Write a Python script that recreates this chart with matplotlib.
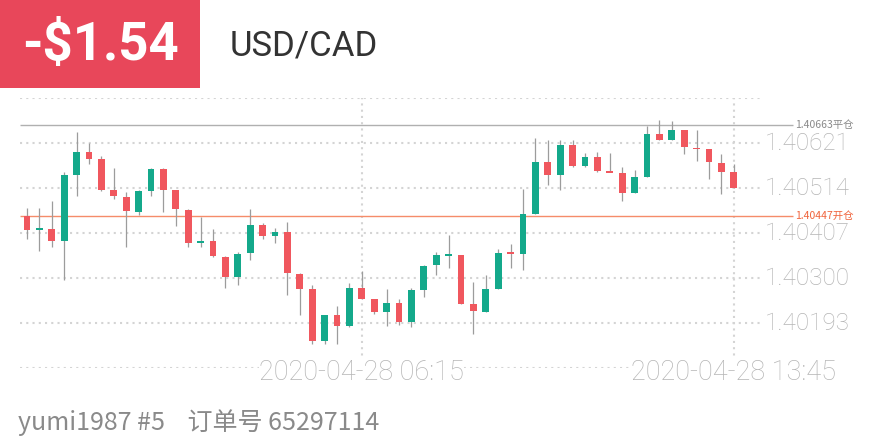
import matplotlib
matplotlib.use("Agg")
from matplotlib import pyplot as plt
from matplotlib.patches import Rectangle
from matplotlib.transforms import blended_transform_factory

# 15 min candles, USD/CAD
opens = [1.40447, 1.40415, 1.40417, 1.40387, 1.40544, 1.40600, 1.40582, 1.40510, 1.40493, 1.40458,
         1.40508, 1.40560, 1.40510, 1.40461, 1.40384, 1.40388, 1.40350, 1.40303, 1.40360, 1.40425,
         1.40401, 1.40409, 1.40310, 1.40274, 1.40150, 1.40213, 1.40185, 1.40277, 1.40250, 1.40219,
         1.40241, 1.40196, 1.40271, 1.40330, 1.40355, 1.40354, 1.40239, 1.40220, 1.40275, 1.40361,
         1.40356, 1.40451, 1.40576, 1.40544, 1.40616, 1.40566, 1.40588, 1.40553, 1.40550, 1.40503,
         1.40541, 1.40643, 1.40628, 1.40653, 1.40609, 1.40606, 1.40574, 1.40552]
highs = [1.40467, 1.40467, 1.40483, 1.40552, 1.40647, 1.40620, 1.40590, 1.40562, 1.40504, 1.40510,
         1.40562, 1.40562, 1.40510, 1.40463, 1.40446, 1.40417, 1.40352, 1.40361, 1.40463, 1.40431,
         1.40419, 1.40433, 1.40311, 1.40283, 1.40213, 1.40233, 1.40289, 1.40316, 1.40251, 1.40273,
         1.40249, 1.40277, 1.40330, 1.40361, 1.40403, 1.40355, 1.40291, 1.40308, 1.40369, 1.40382,
         1.40512, 1.40633, 1.40629, 1.40629, 1.40628, 1.40598, 1.40600, 1.40598, 1.40563, 1.40557,
         1.40661, 1.40675, 1.40673, 1.40653, 1.40653, 1.40606, 1.40594, 1.40572]
lows = [1.40392, 1.40364, 1.40374, 1.40296, 1.40496, 1.40570, 1.40506, 1.40488, 1.40373, 1.40449,
        1.40496, 1.40456, 1.40423, 1.40373, 1.40373, 1.40350, 1.40277, 1.40283, 1.40342, 1.40392,
        1.40384, 1.40259, 1.40211, 1.40142, 1.40142, 1.40144, 1.40184, 1.40249, 1.40215, 1.40185,
        1.40188, 1.40184, 1.40255, 1.40308, 1.40323, 1.40237, 1.40167, 1.40220, 1.40275, 1.40323,
        1.40320, 1.40451, 1.40522, 1.40510, 1.40565, 1.40565, 1.40553, 1.40551, 1.40484, 1.40503,
        1.40541, 1.40628, 1.40627, 1.40594, 1.40578, 1.40536, 1.40499, 1.40513]
closes = [1.40415, 1.40417, 1.40387, 1.40544, 1.40600, 1.40582, 1.40510, 1.40494, 1.40459, 1.40506,
          1.40560, 1.40510, 1.40463, 1.40384, 1.40386, 1.40352, 1.40303, 1.40358, 1.40425, 1.40401,
          1.40409, 1.40311, 1.40275, 1.40151, 1.40213, 1.40185, 1.40277, 1.40251, 1.40219, 1.40241,
          1.40196, 1.40271, 1.40328, 1.40354, 1.40355, 1.40239, 1.40221, 1.40274, 1.40360, 1.40357,
          1.40451, 1.40576, 1.40544, 1.40616, 1.40566, 1.40588, 1.40554, 1.40551, 1.40503, 1.40540,
          1.40643, 1.40628, 1.40653, 1.40611, 1.40607, 1.40575, 1.40552, 1.40513]

grid_levels = [1.40086, 1.40193, 1.40300, 1.40407, 1.40514, 1.40621, 1.40728]
price_labels = ["1.40193", "1.40300", "1.40407", "1.40514", "1.40621"]
time_idx = [27, 57]
time_labels = ["2020-04-28 06:15", "2020-04-28 13:45"]
open_price = 1.40447
close_price = 1.40663
profit = "-$1.54"
symbol = "USD/CAD"
footer = "yumi1987 #5    订单号 65297114"

green = "#14a98b"
red = "#f0575e"
W, H = 880, 440

fig = plt.figure(figsize=(8.8, 4.4), dpi=100)
fig.patch.set_facecolor("white")

# plot area in pixels: x 20..850, y 98..368
ax = fig.add_axes([20 / W, 1 - 368 / H, 830 / W, 270 / H])
ax.set_xlim(-7 / 12.4, 823 / 12.4)
ax.set_ylim(grid_levels[0], grid_levels[-1])
ax.axis("off")

x_grid_end = 735 / 12.4
x_line_end = 766 / 12.4
for g in grid_levels:
    ax.hlines(g, ax.get_xlim()[0], x_grid_end, colors="#d4d4d4", lw=1.5,
              linestyles=(0, (1, 2)), zorder=0)
for t in time_idx:
    ax.vlines(t, grid_levels[0], grid_levels[-1], colors="#d4d4d4", lw=1.5,
              linestyles=(0, (1, 2)), zorder=0)

# candles
n = len(opens)
xs = list(range(n))
ax.vlines(xs, lows, highs, colors="#9c9c9c", lw=0.9, zorder=2)
for i in xs:
    o, c = opens[i], closes[i]
    col = green if c >= o else red
    lo, hi = min(o, c), max(o, c)
    if hi - lo < 0.00004:
        mid = (hi + lo) / 2
        lo, hi = mid - 0.00002, mid + 0.00002
    ax.bar(i, hi - lo, bottom=lo, width=0.56, color=col, zorder=3, linewidth=0)

# open / close lines
ax.hlines(close_price, ax.get_xlim()[0], x_line_end, colors="#b0b0b0", lw=1.0, zorder=1)
ax.hlines(open_price, ax.get_xlim()[0], x_line_end, colors="#f58c6a", lw=1.0, zorder=1)

tr_y = blended_transform_factory(ax.transAxes, ax.transData)
for lab in price_labels:
    ax.text(1.0, float(lab), lab, transform=tr_y, ha="right", va="center",
            fontsize=17.5, color="#b5b5b5", family="Roboto", fontweight="light")

lbl_family = ["Noto Sans CJK SC", "DejaVu Sans"]
ax.text(x_line_end + 0.2, close_price, "%.5f平仓" % close_price, ha="left", va="center",
        fontsize=7.5, color="#8a8a8a", family=lbl_family,
        bbox=dict(facecolor="white", edgecolor="none", pad=1))
ax.text(x_line_end + 0.2, open_price, "%.5f开仓" % open_price, ha="left", va="center",
        fontsize=7.5, color="#f0643c", family=lbl_family,
        bbox=dict(facecolor="white", edgecolor="none", pad=1))

tr_x = blended_transform_factory(ax.transData, ax.transAxes)
for t, lab in zip(time_idx, time_labels):
    ax.text(t, -4 / 270, lab, transform=tr_x, ha="center", va="center",
            fontsize=19.5, color="#b5b5b5", family="Roboto", fontweight="light",
            bbox=dict(facecolor="white", edgecolor="none", pad=0))

# header
fig.patches.append(Rectangle((0, 1 - 88 / H), 200 / W, 88 / H, transform=fig.transFigure,
                             facecolor="#e8475a", edgecolor="none"))
fig.text(100 / W, 1 - 46 / H, profit, ha="center", va="center", color="white",
         fontsize=38, fontweight="bold", family="Roboto")
fig.text(230 / W, 1 - 46 / H, symbol, ha="left", va="center", color="#333333",
         fontsize=25, family="Roboto")

fig.text(18 / W, 1 - 423 / H, footer, ha="left", va="center", color="#8a8a8a",
         fontsize=18, family=lbl_family)

fig.savefig("out.png", dpi=100)
